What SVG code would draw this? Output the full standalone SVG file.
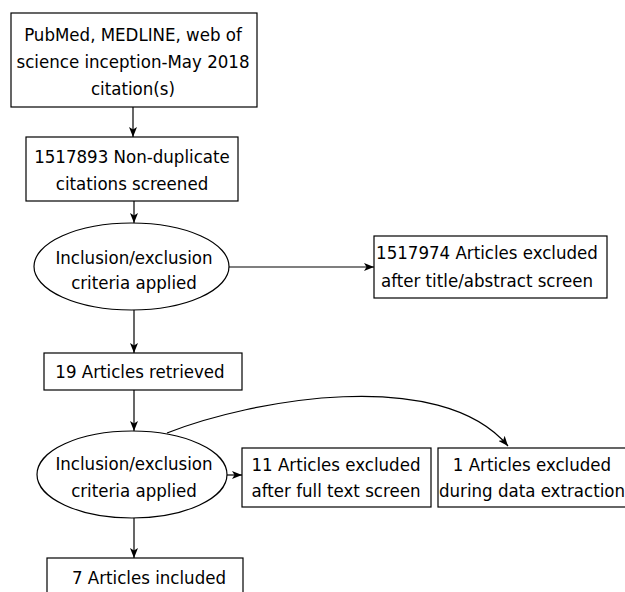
<svg xmlns="http://www.w3.org/2000/svg" width="625" height="592" viewBox="0 0 625 592">
<style>
.box{fill:#fff;stroke:#000;stroke-width:1.2}
.t{font-family:"DejaVu Sans Condensed","DejaVu Sans",sans-serif;font-size:18.5px;fill:#000;text-anchor:middle}
.c{fill:none;stroke:#000;stroke-width:1.2}
</style>
<defs>
<marker id="ah" markerWidth="10" markerHeight="8" refX="10" refY="4" orient="auto" markerUnits="userSpaceOnUse">
<path d="M0,0 L10,4 L0,8 L2.5,4 Z" fill="#000"/>
</marker>
</defs>
<rect width="625" height="592" fill="#fff"/>
<g id="connectors">
<line class="c" x1="133" y1="107" x2="133" y2="137" marker-end="url(#ah)"/>
<line class="c" x1="134" y1="201" x2="134" y2="223" marker-end="url(#ah)"/>
<line class="c" x1="229" y1="267" x2="374" y2="267" marker-end="url(#ah)"/>
<line class="c" x1="134" y1="310" x2="134" y2="353" marker-end="url(#ah)"/>
<line class="c" x1="134" y1="390" x2="134" y2="431" marker-end="url(#ah)"/>
<path class="c" d="M167,433 C250,400 440,365 508,446" marker-end="url(#ah)"/>
<line class="c" x1="227" y1="475" x2="242" y2="475" marker-end="url(#ah)"/>
<line class="c" x1="134" y1="518" x2="134" y2="558" marker-end="url(#ah)"/>
</g>
<g id="n1">
<rect class="box" x="11" y="13" width="246" height="94"/>
<text class="t" x="133" y="41">PubMed, MEDLINE, web of</text>
<text class="t" x="133" y="68">science inception-May 2018</text>
<text class="t" x="133" y="95">citation(s)</text>
</g>
<g id="n2">
<rect class="box" x="26" y="137" width="212" height="64"/>
<text class="t" x="132" y="163">1517893 Non-duplicate</text>
<text class="t" x="132" y="190">citations screened</text>
</g>
<g id="n3">
<ellipse class="box" cx="131.5" cy="266.5" rx="97.5" ry="43.5"/>
<text class="t" x="134" y="264">Inclusion/exclusion</text>
<text class="t" x="134" y="289">criteria applied</text>
</g>
<g id="n4">
<rect class="box" x="374" y="236" width="233" height="62"/>
<text class="t" x="487" y="259">1517974 Articles excluded</text>
<text class="t" x="487" y="287">after title/abstract screen</text>
</g>
<g id="n5">
<rect class="box" x="44" y="353" width="198" height="37"/>
<text class="t" x="140" y="378">19 Articles retrieved</text>
</g>
<g id="n6">
<ellipse class="box" cx="132" cy="474.5" rx="95" ry="43.5"/>
<text class="t" x="134" y="470">Inclusion/exclusion</text>
<text class="t" x="134" y="497">criteria applied</text>
</g>
<g id="n7">
<rect class="box" x="242" y="448" width="189" height="59"/>
<text class="t" x="336" y="471">11 Articles excluded</text>
<text class="t" x="336" y="497">after full text screen</text>
</g>
<g id="n8">
<rect class="box" x="438" y="448" width="190" height="59"/>
<text class="t" x="532" y="471">1 Articles excluded</text>
<text class="t" x="532" y="497">during data extraction</text>
</g>
<g id="n9">
<rect class="box" x="47" y="558" width="196" height="50"/>
<text class="t" x="149" y="584">7 Articles included</text>
</g>
</svg>
